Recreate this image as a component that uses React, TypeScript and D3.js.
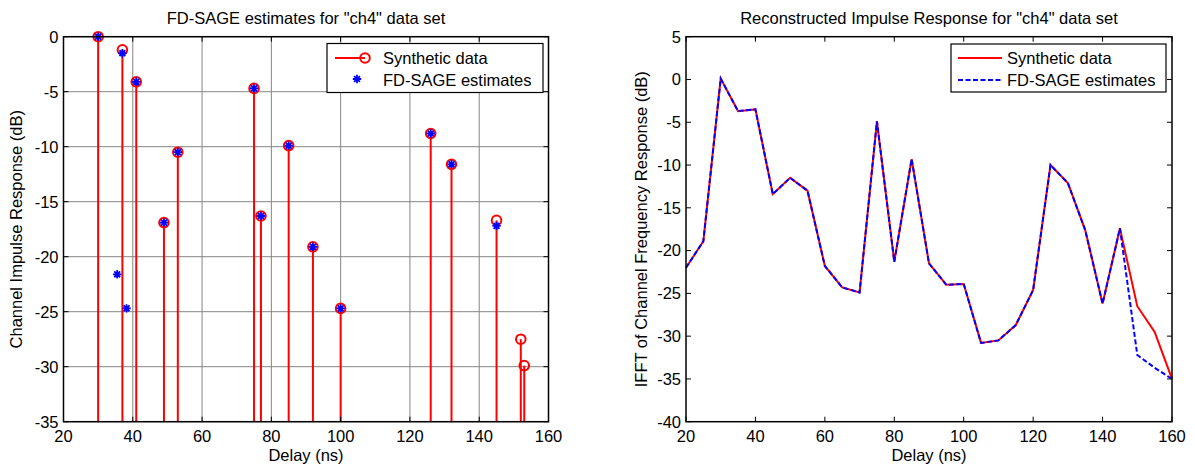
import React, { useEffect, useRef } from "react";
import * as d3 from "d3";

const stemDelays = [30, 37, 41, 49, 53, 75, 77, 85, 92, 100, 126, 132, 145, 152, 153];
const stemSynthetic = [0, -1.2, -4.1, -16.9, -10.5, -4.7, -16.3, -9.9, -19.1, -24.7, -8.8, -11.6, -16.7, -27.5, -29.9];
const estDelays = [30, 37, 41, 49, 53, 75, 77, 85, 92, 100, 126, 132, 145, 35.5, 38.2];
const estValues = [0, -1.5, -4.1, -16.9, -10.5, -4.7, -16.3, -9.9, -19.1, -24.7, -8.8, -11.6, -17.2, -21.6, -24.7];

const irDelays = [20, 25, 30, 35, 40, 45, 50, 55, 60, 65, 70, 75, 80, 85, 90, 95, 100, 105, 110, 115, 120, 125, 130, 135, 140, 145, 150, 155, 160];
const irSynthetic = [-22, -18.9, 0.1, -3.7, -3.5, -13.4, -11.5, -13.0, -21.8, -24.3, -24.9, -4.9, -21.3, -9.3, -21.5, -24.0, -23.9, -30.8, -30.5, -28.7, -24.6, -10.0, -12.1, -17.6, -26.2, -17.4, -26.5, -29.5, -35.0];
const irEstimate = [-22, -18.9, 0.1, -3.7, -3.5, -13.4, -11.5, -13.0, -21.8, -24.3, -24.9, -4.9, -21.3, -9.3, -21.5, -24.0, -23.9, -30.8, -30.5, -28.7, -24.6, -10.0, -12.1, -17.6, -26.2, -17.4, -32.2, -33.7, -35.0];

const xTicks = [20, 40, 60, 80, 100, 120, 140, 160];
const leftYTicks = [0, -5, -10, -15, -20, -25, -30, -35];
const rightYTicks = [5, 0, -5, -10, -15, -20, -25, -30, -35, -40];

const FONT = "'Liberation Sans', Arial, sans-serif";
const FS = 16.5;

function asterisk(g: any, cx: number, cy: number, s: number, color: string) {
  const p = d3.path();
  p.moveTo(cx - s, cy); p.lineTo(cx + s, cy);
  p.moveTo(cx, cy - s); p.lineTo(cx, cy + s);
  const d = s * 0.7;
  p.moveTo(cx - d, cy - d); p.lineTo(cx + d, cy + d);
  p.moveTo(cx - d, cy + d); p.lineTo(cx + d, cy - d);
  g.append("path").attr("d", p.toString()).attr("stroke", color).attr("stroke-width", 1.8).attr("fill", "none");
}

function drawGrid(svg: any, x: any, y: any, yTicks: number[]) {
  const [x0, x1] = x.range();
  const [y1, y0] = y.range();
  const g = svg.append("g");
  xTicks.forEach((t) => {
    g.append("line").attr("x1", x(t)).attr("x2", x(t)).attr("y1", y0).attr("y2", y1)
      .attr("stroke", "#858585").attr("stroke-width", 1);
  });
  yTicks.forEach((t) => {
    g.append("line").attr("y1", y(t)).attr("y2", y(t)).attr("x1", x0).attr("x2", x1)
      .attr("stroke", "#858585").attr("stroke-width", 1);
  });
}

function drawFrame(svg: any, x: any, y: any, yTicks: number[]) {
  const [x0, x1] = x.range();
  const [y1, y0] = y.range();
  const g = svg.append("g");
  const tl = 5;
  xTicks.forEach((t) => {
    g.append("line").attr("x1", x(t)).attr("x2", x(t)).attr("y1", y1).attr("y2", y1 - tl).attr("stroke", "#000");
    g.append("line").attr("x1", x(t)).attr("x2", x(t)).attr("y1", y0).attr("y2", y0 + tl).attr("stroke", "#000");
    g.append("text").attr("x", x(t)).attr("y", y1 + 20).attr("text-anchor", "middle")
      .attr("font-family", FONT).attr("font-size", FS).text(String(t));
  });
  yTicks.forEach((t) => {
    g.append("line").attr("x1", x0).attr("x2", x0 + tl).attr("y1", y(t)).attr("y2", y(t)).attr("stroke", "#000");
    g.append("line").attr("x1", x1).attr("x2", x1 - tl).attr("y1", y(t)).attr("y2", y(t)).attr("stroke", "#000");
    g.append("text").attr("x", x0 - 5).attr("y", y(t) + 5.8).attr("text-anchor", "end")
      .attr("font-family", FONT).attr("font-size", FS).text(String(t));
  });
  g.append("rect").attr("x", x0).attr("y", y0).attr("width", x1 - x0).attr("height", y1 - y0)
    .attr("fill", "none").attr("stroke", "#000").attr("stroke-width", 1.5);
}

export default function App() {
  const ref = useRef<SVGSVGElement>(null);
  useEffect(() => {
    const svg = d3.select(ref.current);
    svg.selectAll("*").remove();
    svg.append("rect").attr("width", 1195).attr("height", 468).attr("fill", "#fff");

    // ----- Left chart -----
    const xL = d3.scaleLinear().domain([20, 160]).range([63.5, 548.5]);
    const yL = d3.scaleLinear().domain([-35, 0]).range([421.7, 36.7]);
    drawGrid(svg, xL, yL, leftYTicks);
    const gL = svg.append("g");
    stemDelays.forEach((d, i) => {
      gL.append("line").attr("x1", xL(d)).attr("x2", xL(d)).attr("y1", yL(-35)).attr("y2", yL(stemSynthetic[i]))
        .attr("stroke", "#f00").attr("stroke-width", 2);
    });
    stemDelays.forEach((d, i) => {
      gL.append("circle").attr("cx", xL(d)).attr("cy", yL(stemSynthetic[i])).attr("r", 4.8)
        .attr("fill", "none").attr("stroke", "#f00").attr("stroke-width", 2);
    });
    estDelays.forEach((d, i) => asterisk(gL, xL(d), yL(estValues[i]), 4.2, "#00f"));
    drawFrame(svg, xL, yL, leftYTicks);

    svg.append("text").attr("x", (63.5 + 548.5) / 2).attr("y", 24).attr("text-anchor", "middle")
      .attr("font-family", FONT).attr("font-size", FS).text('FD-SAGE estimates for "ch4" data set');
    svg.append("text").attr("x", (63.5 + 548.5) / 2).attr("y", 461).attr("text-anchor", "middle")
      .attr("font-family", FONT).attr("font-size", FS).text("Delay (ns)");
    svg.append("text").attr("transform", `translate(22,${(36.7 + 421.7) / 2}) rotate(-90)`).attr("text-anchor", "middle")
      .attr("font-family", FONT).attr("font-size", FS).text("Channel Impulse Response (dB)");

    // legend left
    const lg = svg.append("g");
    lg.append("rect").attr("x", 327).attr("y", 43.5).attr("width", 216).attr("height", 49)
      .attr("fill", "#fff").attr("stroke", "#000").attr("stroke-width", 1.2);
    lg.append("line").attr("x1", 335).attr("x2", 365).attr("y1", 58).attr("y2", 58).attr("stroke", "#f00").attr("stroke-width", 2);
    lg.append("circle").attr("cx", 365).attr("cy", 58).attr("r", 4.8).attr("fill", "none").attr("stroke", "#f00").attr("stroke-width", 2);
    asterisk(lg, 357, 79, 4.2, "#00f");
    lg.append("text").attr("x", 383).attr("y", 63.5).attr("font-family", FONT).attr("font-size", FS).text("Synthetic data");
    lg.append("text").attr("x", 383).attr("y", 86).attr("font-family", FONT).attr("font-size", FS).text("FD-SAGE estimates");

    // ----- Right chart -----
    const xR = d3.scaleLinear().domain([20, 160]).range([686, 1172]);
    const yR = d3.scaleLinear().domain([-40, 5]).range([421.7, 36.7]);
    const gR = svg.append("g");
    const line = d3.line<number>().x((_, i) => xR(irDelays[i])).y((v) => yR(v));
    gR.append("path").attr("d", line(irSynthetic)).attr("fill", "none").attr("stroke", "#f00").attr("stroke-width", 2);
    gR.append("path").attr("d", line(irEstimate)).attr("fill", "none").attr("stroke", "#00f").attr("stroke-width", 2)
      .attr("stroke-dasharray", "5,2.5");
    drawFrame(svg, xR, yR, rightYTicks);

    svg.append("text").attr("x", (686 + 1172) / 2).attr("y", 24).attr("text-anchor", "middle")
      .attr("font-family", FONT).attr("font-size", FS).text('Reconstructed Impulse Response for "ch4" data set');
    svg.append("text").attr("x", (686 + 1172) / 2).attr("y", 461).attr("text-anchor", "middle")
      .attr("font-family", FONT).attr("font-size", FS).text("Delay (ns)");
    svg.append("text").attr("transform", `translate(647,${(36.7 + 421.7) / 2}) rotate(-90)`).attr("text-anchor", "middle")
      .attr("font-family", FONT).attr("font-size", FS).text("IFFT of Channel Frequency Response (dB)");

    const rg = svg.append("g");
    rg.append("rect").attr("x", 951).attr("y", 44).attr("width", 215).attr("height", 48)
      .attr("fill", "#fff").attr("stroke", "#000").attr("stroke-width", 1.2);
    rg.append("line").attr("x1", 958).attr("x2", 1002).attr("y1", 58).attr("y2", 58).attr("stroke", "#f00").attr("stroke-width", 2);
    rg.append("line").attr("x1", 958).attr("x2", 1002).attr("y1", 80).attr("y2", 80).attr("stroke", "#00f").attr("stroke-width", 2)
      .attr("stroke-dasharray", "5,2.5");
    rg.append("text").attr("x", 1007).attr("y", 63.5).attr("font-family", FONT).attr("font-size", FS).text("Synthetic data");
    rg.append("text").attr("x", 1007).attr("y", 86).attr("font-family", FONT).attr("font-size", FS).text("FD-SAGE estimates");
  }, []);
  return (
    <svg ref={ref} width={1195} height={468} style={{ position: "absolute", left: 0, top: 0 }} />
  );
}
